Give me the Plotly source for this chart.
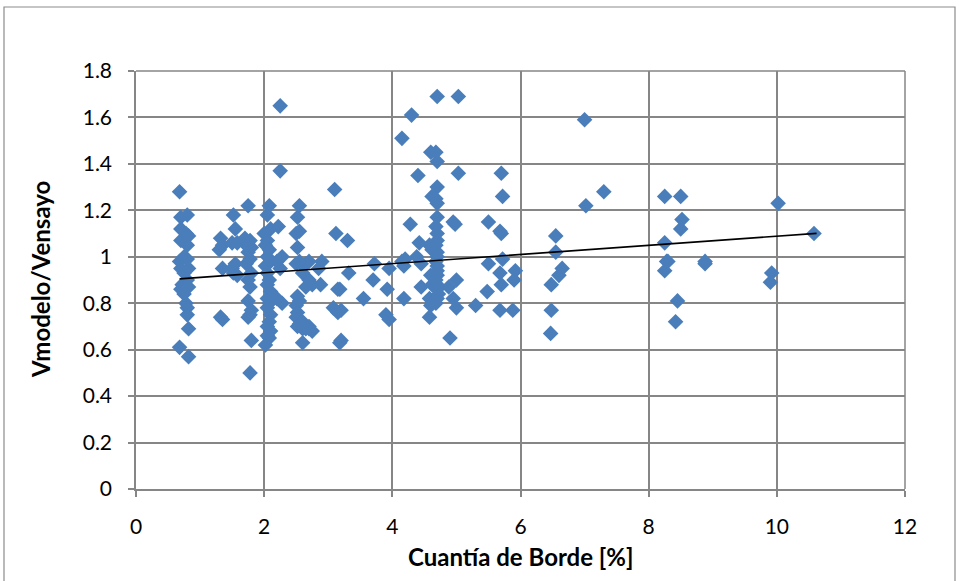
import plotly.graph_objects as go

# --- data ---
x_vals = [
    0.68, 0.70, 0.80, 0.70, 0.78, 0.82, 0.70, 0.80, 0.75, 0.68, 0.80, 0.70, 0.75, 0.82,
    0.72, 0.80, 0.70, 0.75, 0.82, 0.78, 0.80, 0.80, 0.82, 0.68, 0.82,
    1.32, 1.35, 1.30, 1.35, 1.32, 1.35,
    1.52, 1.55, 1.50, 1.58, 1.55, 1.50, 1.52, 1.58,
    1.75, 1.70, 1.78, 1.72, 1.80, 1.75, 1.78, 1.72, 1.80, 1.75, 1.78, 1.75, 1.80, 1.78, 1.75, 1.80, 1.78,
    2.08, 2.05, 2.10, 2.00, 2.05, 2.02, 2.08, 2.05, 2.10, 2.02, 2.05, 2.08, 2.05, 2.10, 2.05, 2.08,
    2.05, 2.10, 2.08, 2.05, 2.10, 2.05, 2.08, 2.02,
    2.25, 2.25, 2.22, 2.28, 2.20, 2.25, 2.20, 2.28,
    2.55, 2.52, 2.55, 2.50, 2.52, 2.55, 2.50, 2.52, 2.55, 2.50, 2.52, 2.50, 2.55, 2.52, 2.60,
    2.70, 2.65, 2.60, 2.70, 2.75, 2.65, 2.60, 2.70, 2.65, 2.75, 2.70, 2.60,
    2.90, 2.85, 2.88,
    3.10, 3.12, 3.15, 3.08, 3.20,
    3.18, 3.15, 3.20, 3.18,
    3.30, 3.32, 3.55, 3.72, 3.70,
    3.95, 3.92, 3.90, 3.95,
    4.15, 4.20, 4.15, 4.18, 4.18,
    4.30, 4.28,
    4.40, 4.42, 4.38, 4.45, 4.45,
    4.60, 4.62, 4.58, 4.62, 4.60, 4.62, 4.58, 4.62, 4.60, 4.58,
    4.70, 4.68, 4.70, 4.70, 4.68, 4.70, 4.70, 4.68, 4.70, 4.70, 4.68, 4.70, 4.70,
    4.68, 4.70, 4.70, 4.70, 4.68, 4.70, 4.70, 4.72, 4.70, 4.68,
    4.95, 4.88, 4.90, 4.95,
    5.03, 5.03, 4.98, 5.00, 5.00,
    5.30, 5.50, 5.50, 5.48,
    5.70, 5.72, 5.68, 5.70, 5.72, 5.68, 5.70, 5.68,
    5.92, 5.90, 5.88,
    6.55, 6.55, 6.60, 6.48, 6.48, 6.47, 6.65,
    7.00, 7.02, 7.30,
    8.25, 8.25, 8.28, 8.25, 8.30,
    8.45, 8.42, 8.50, 8.52, 8.50,
    8.88, 8.88, 9.92, 9.90, 10.02, 10.58,
]
y_vals = [
    1.28, 1.17, 1.18, 1.12, 1.10, 1.09, 1.07, 1.05, 1.00, 0.98, 0.99, 0.95, 0.93, 0.95,
    0.88, 0.90, 0.86, 0.84, 0.87, 0.80, 0.78, 0.75, 0.69, 0.61, 0.57,
    1.08, 1.05, 1.03, 0.95, 0.74, 0.73,
    1.18, 1.12, 1.06, 1.06, 0.97, 0.95, 0.93, 0.92,
    1.22, 1.08, 1.07, 1.05, 1.04, 1.02, 0.99, 0.97, 0.93, 0.90, 0.87, 0.81, 0.77, 0.75, 0.74, 0.64, 0.50,
    1.22, 1.18, 1.12, 1.10, 1.07, 1.05, 1.03, 1.00, 0.98, 0.96, 0.93, 0.90, 0.88, 0.85, 0.82, 0.80,
    0.78, 0.75, 0.72, 0.70, 0.68, 0.66, 0.65, 0.62,
    1.65, 1.37, 1.13, 1.00, 0.98, 0.95, 0.82, 0.80,
    1.22, 1.17, 1.11, 1.10, 1.04, 0.98, 0.97, 0.83, 0.81, 0.79, 0.76, 0.74, 0.71, 0.70, 0.69,
    0.98, 0.97, 0.93, 0.90, 0.88, 0.87, 0.72, 0.70, 0.69, 0.68, 0.69, 0.63,
    0.98, 0.95, 0.88,
    1.29, 1.10, 0.86, 0.78, 0.77,
    0.86, 0.76, 0.64, 0.63,
    1.07, 0.93, 0.82, 0.97, 0.90,
    0.95, 0.86, 0.75, 0.73,
    1.51, 0.99, 0.98, 0.96, 0.82,
    1.61, 1.14,
    1.35, 1.06, 1.00, 0.97, 0.87,
    1.45, 1.26, 1.05, 1.03, 0.92, 0.88, 0.82, 0.80, 0.79, 0.74,
    1.69, 1.45, 1.41, 1.30, 1.25, 1.23, 1.17, 1.13, 1.10, 1.07, 1.05, 1.02, 1.00,
    0.98, 0.96, 0.94, 0.92, 0.90, 0.88, 0.86, 0.84, 0.82, 0.80,
    1.15, 0.87, 0.65, 0.82,
    1.69, 1.36, 1.14, 0.90, 0.78,
    0.79, 1.15, 0.97, 0.85,
    1.36, 1.26, 1.11, 1.10, 0.99, 0.93, 0.88, 0.77,
    0.94, 0.90, 0.77,
    1.09, 1.02, 0.92, 0.88, 0.77, 0.67, 0.95,
    1.59, 1.22, 1.28,
    1.26, 1.06, 0.98, 0.94, 0.98,
    0.81, 0.72, 1.26, 1.16, 1.12,
    0.98, 0.97, 0.93, 0.89, 1.23, 1.10,
]

# linear trendline: y = intercept + slope * x
trend_x = [0.68, 10.62]
trend_intercept = 0.8915
trend_slope = 0.0197

x_ticks = [0, 2, 4, 6, 8, 10, 12]
y_ticks = [0, 0.2, 0.4, 0.6, 0.8, 1, 1.2, 1.4, 1.6, 1.8]
x_title = "Cuantía de Borde [%]"
y_title = "Vmodelo/Vensayo"

FONT = "Lato, 'Open Sans', sans-serif"
GRID = "#868686"

fig = go.Figure()
fig.add_trace(go.Scatter(
    x=x_vals, y=y_vals, mode="markers",
    marker=dict(symbol="diamond", size=12, color="#4A7EBB", line=dict(width=0)),
    showlegend=False, hoverinfo="x+y",
))
fig.add_trace(go.Scatter(
    x=trend_x, y=[trend_intercept + trend_slope * v for v in trend_x],
    mode="lines", line=dict(color="black", width=1.6), showlegend=False,
))

axis_common = dict(
    showgrid=True, gridcolor=GRID, gridwidth=1.5,
    showline=True, linecolor=GRID, linewidth=1.5,
    ticks="outside", ticklen=6, tickcolor=GRID, tickwidth=1.5,
    zeroline=False, mirror=False,
    tickfont=dict(family=FONT, size=21, color="black"),
)
fig.update_xaxes(range=[0, 12], tickvals=x_ticks, ticklabelstandoff=12, **axis_common)
fig.update_yaxes(range=[0, 1.8], tickvals=y_ticks, ticklabelstandoff=12, **axis_common)

fig.update_layout(
    width=959, height=581,
    margin=dict(l=136, r=54, t=71, b=92),
    plot_bgcolor="white", paper_bgcolor="white",
    font=dict(family=FONT, color="black"),
    shapes=[
        dict(type="rect", xref="paper", yref="paper",
             x0=1, x1=1, y0=0, y1=1, line=dict(color=GRID, width=1.5)),
        dict(type="line", xref="paper", yref="paper",
             x0=0, x1=1, y0=1, y1=1, line=dict(color=GRID, width=1.5)),
        dict(type="rect", xref="paper", yref="paper",
             x0=(4 - 136) / 769, x1=(955 - 136) / 769,
             y0=(489 - 590) / 418, y1=(489 - 7) / 418,
             line=dict(color="#8c8c8c", width=1.2), layer="below"),
    ],
    annotations=[
        dict(text="<b>" + x_title + "</b>", xref="paper", yref="paper",
             x=0.5, y=(489 - 556) / 418, showarrow=False,
             font=dict(family=FONT, size=24, color="black"),
             xanchor="center", yanchor="middle"),
        dict(text="<b>" + y_title + "</b>", xref="paper", yref="paper",
             x=(40 - 136) / 769, y=0.5, showarrow=False, textangle=-90,
             font=dict(family=FONT, size=24, color="black"),
             xanchor="center", yanchor="middle"),
    ],
)

fig.write_html("out.html")
